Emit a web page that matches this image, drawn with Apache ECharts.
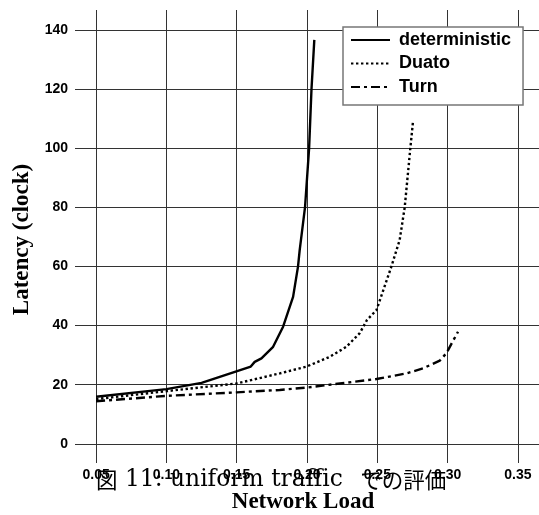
<!DOCTYPE html>
<html><head><meta charset="utf-8">
<script src="https://cdn.jsdelivr.net/npm/echarts@6/dist/echarts.min.js"></script>
<style>html,body{margin:0;padding:0;background:#fff}#c{width:539px;height:515px}</style>
</head><body><div id="c"></div>
<script>
const seriesNames = ['deterministic', 'Duato', 'Turn'];
const deterministic = [[0.05,15.9],[0.10,18.5],[0.125,20.6],[0.16,26.1],[0.1628,27.7],[0.1676,28.9],[0.1759,32.8],[0.183,39.6],[0.1901,49.7],[0.1936,59.9],[0.1948,65.5],[0.1986,80],[0.2015,100],[0.2032,120],[0.2052,136.6]];
const duato = [[0.05,15.1],[0.10,17.8],[0.15,20.4],[0.1806,23.8],[0.1996,26.1],[0.2162,29.4],[0.228,32.8],[0.2375,37.4],[0.2427,41.9],[0.2494,45.2],[0.26,59.9],[0.2659,68.9],[0.2695,80],[0.2735,100],[0.2754,109]];
const turn = [[0.05,14.4],[0.10,16.2],[0.15,17.4],[0.1806,18.2],[0.1996,19.0],[0.2494,21.9],[0.2707,23.8],[0.2825,25.5],[0.2944,28.1],[0.2991,30.6],[0.3074,37.9]];
const xTicks = [0.05, 0.10, 0.15, 0.20, 0.25, 0.30, 0.35];
const yTicks = [0, 20, 40, 60, 80, 100, 120, 140];
const xTitle = 'Network Load';
const yTitle = 'Latency (clock)';
const captionParts = ['図', ' 11: uniform traffic ', 'での評価'];

const chart = echarts.init(document.getElementById('c'), null, {renderer: 'canvas'});
const gridLine = {show: true, lineStyle: {color: '#333', width: 1}};
const labelFont = {fontFamily: 'Liberation Sans, Arial, sans-serif', fontWeight: 'bold', fontSize: 14, color: '#000'};
chart.setOption({
  animation: false,
  backgroundColor: '#fff',
  grid: {left: 75, right: 0, top: 10, bottom: 52, containLabel: false, outerBoundsMode: 'none'},
  xAxis: {
    type: 'value', min: 0.035, max: 0.365,
    axisLine: {show: false},
    axisTick: {show: false, customValues: xTicks},
    axisLabel: Object.assign({customValues: xTicks, margin: 5, formatter: v => v.toFixed(2)}, labelFont),
    splitLine: gridLine,
    name: xTitle, nameLocation: 'middle', nameGap: 28,
    nameTextStyle: {fontFamily: 'Liberation Serif, Times New Roman, serif', fontWeight: 'bold', fontSize: 23, color: '#000', padding: [0, 8, 0, 0]}
  },
  yAxis: {
    type: 'value', min: -6.5, max: 146.7,
    axisLine: {show: false},
    axisTick: {show: false, customValues: yTicks},
    axisLabel: Object.assign({customValues: yTicks, margin: 7}, labelFont),
    splitLine: gridLine,
    name: yTitle, nameLocation: 'middle', nameGap: 33,
    nameTextStyle: {fontFamily: 'Liberation Serif, Times New Roman, serif', fontWeight: 'bold', fontSize: 23, color: '#000', padding: [0, 6, 0, 0]}
  },
  legend: {
    orient: 'vertical', left: 343, top: 27,
    data: seriesNames,
    backgroundColor: '#fff', borderColor: '#777', borderWidth: 1.5, borderRadius: 0,
    padding: [4, 12, 9, 7],
    itemWidth: 39, itemHeight: 14, itemGap: 5.5,
    itemStyle: {opacity: 0, borderWidth: 0},
    textStyle: {fontFamily: 'Liberation Sans, Arial, sans-serif', fontWeight: 'bold', fontSize: 18, color: '#000', padding: [0, 0, 0, 4]}
  },
  series: [
    {name: seriesNames[0], type: 'line', data: deterministic, symbol: 'none', lineStyle: {color: '#000', width: 2.4, type: 'solid'}, itemStyle: {color: '#000'}},
    {name: seriesNames[1], type: 'line', data: duato, symbol: 'none', lineStyle: {color: '#000', width: 2.4, type: [2.4, 2.6]}, itemStyle: {color: '#000'}},
    {name: seriesNames[2], type: 'line', data: turn, symbol: 'none', lineStyle: {color: '#000', width: 2.4, type: [9, 4, 3, 4]}, itemStyle: {color: '#000'}}
  ],
  graphic: [{
    type: 'text', left: 96, top: 468, z: 100,
    style: {
      text: '{j|' + captionParts[0] + '}{l|' + captionParts[1] + '}{k|' + captionParts[2] + '}',
      rich: {
        j: {fontFamily: 'Noto Sans CJK JP, sans-serif', fontSize: 21.5, fill: '#000', lineHeight: 24},
        k: {fontFamily: 'Noto Sans CJK JP, sans-serif', fontSize: 21.5, fill: '#000', lineHeight: 24, padding: [0, 0, 0, 10]},
        l: {fontFamily: 'DejaVu Serif, serif', fontSize: 23.4, fill: '#000', lineHeight: 24}
      }
    }
  }]
});
</script></body></html>
